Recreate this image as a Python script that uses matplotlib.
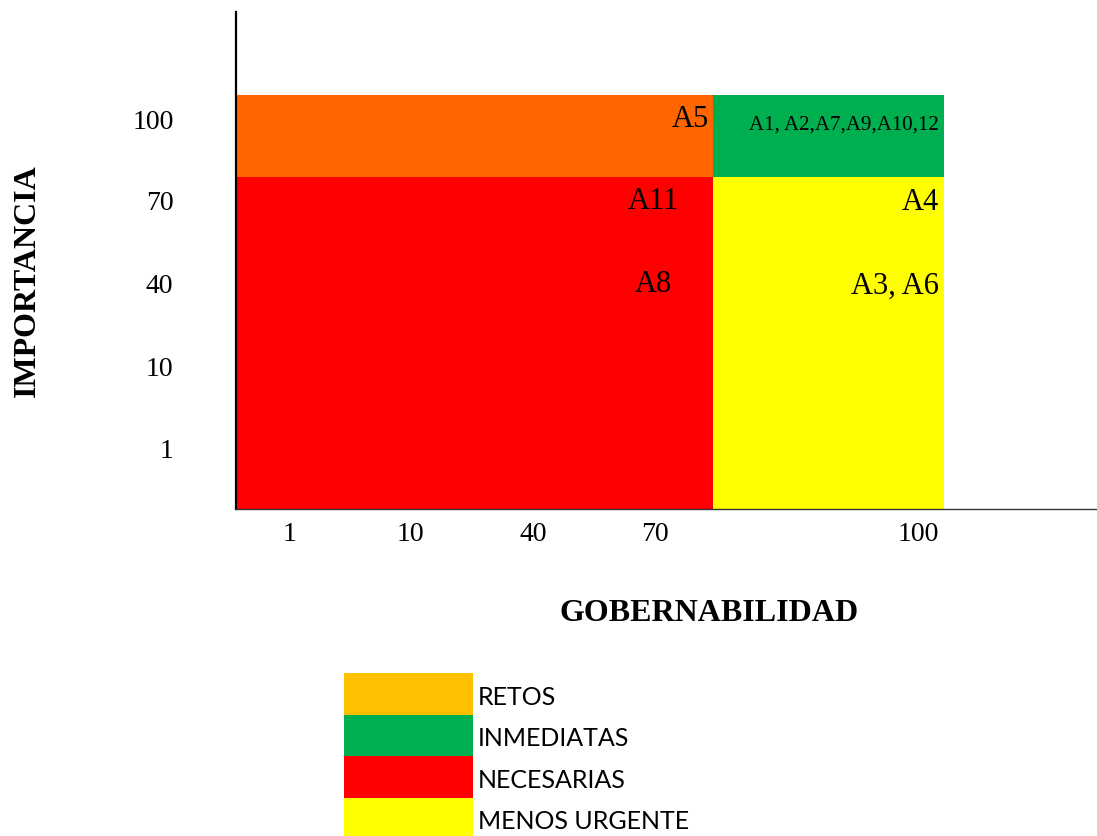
import matplotlib.pyplot as plt
from matplotlib.patches import Rectangle

# matriz importancia / gobernabilidad
x_labels = ["1", "10", "40", "70", "100"]
y_labels = ["100", "70", "40", "10", "1"]

cuadrantes = ["RETOS", "INMEDIATAS", "NECESARIAS", "MENOS URGENTE"]
colores_leyenda = ["#FFC000", "#00B050", "#FF0000", "#FFFF00"]

# acciones ubicadas en cada celda: (texto, columna, fila)
acciones = ["A5", "A1, A2,A7,A9,A10,12", "A11", "A4", "A8", "A3, A6"]
acc_col = ["70", "100", "70", "100", "70", "100"]
acc_fila = ["100", "100", "70", "70", "40", "40"]

W, H = 1097, 837
fig = plt.figure(figsize=(W / 100, H / 100), dpi=100)
serif = "Liberation Serif"

# ejes principales en coordenadas de pixel
ax = fig.add_axes([236 / W, (H - 510) / H, 861 / W, 497 / H])
ax.set_xlim(0, 861)
ax.set_ylim(0, 497)

xpos = [54, 174, 297, 419, 682]
ypos = [390, 309, 226, 143, 61]
x_split, x_right = 477, 708
y_split, y_top = 332, 414

ax.add_patch(Rectangle((0, y_split), x_split, y_top - y_split, color="#FF6600", lw=0))
ax.add_patch(Rectangle((x_split, y_split), x_right - x_split, y_top - y_split, color="#00B050", lw=0))
ax.add_patch(Rectangle((0, 0), x_split, y_split, color="#FF0000", lw=0))
ax.add_patch(Rectangle((x_split, 0), x_right - x_split, y_split, color="#FFFF00", lw=0))

ax.set_xticks(xpos)
ax.set_xticklabels(x_labels, family=serif, fontsize=20)
ax.set_yticks(ypos)
ax.set_yticklabels(y_labels, family=serif, fontsize=20)
ax.tick_params(axis="x", length=0, pad=9)
ax.tick_params(axis="y", length=0, pad=45)

for s in ["top", "right"]:
    ax.spines[s].set_visible(False)
ax.spines["left"].set_linewidth(1.6)
ax.spines["bottom"].set_linewidth(1.0)
ax.spines["bottom"].set_color("#333333")

colx = dict(zip(x_labels, xpos))
fily = dict(zip(y_labels, ypos))
for txt, c, f in zip(acciones, acc_col, acc_fila):
    y = fily[f]
    if c == "70":
        if f == "100":
            ax.text(x_split - 4, y + 0, txt, ha="right", va="center", family=serif, fontsize=22)
        else:
            ax.text(colx[c] - 2, y - 1, txt, ha="center", va="center", family=serif, fontsize=22)
    else:
        size = 15 if f == "100" else 22
        off = -5 if f == "100" else -2
        ax.text(x_right - 5, y + off, txt, ha="right", va="center", family=serif, fontsize=size)

fig.text(27 / W, 1 - 281 / H, "IMPORTANCIA", rotation=90, ha="center", va="center",
         family=serif, fontsize=23, fontweight="bold")
fig.text(709 / W, 1 - 614 / H, "GOBERNABILIDAD", ha="center", va="center",
         family=serif, fontsize=23, fontweight="bold")

# leyenda de cuadrantes
lg = fig.add_axes([344 / W, (H - 840) / H, 400 / W, 166 / H])
lg.set_xlim(0, 400)
lg.set_ylim(0, 166)
lg.axis("off")
for i, (nombre, col) in enumerate(zip(cuadrantes, colores_leyenda)):
    y0 = 166 - (i + 1) * 41.5
    lg.add_patch(Rectangle((0, y0), 129, 41.5, color=col, lw=0))
    lg.text(134, y0 + 18, nombre, ha="left", va="center", family="Lato", fontsize=18)

fig.savefig("out.png", dpi=100)
